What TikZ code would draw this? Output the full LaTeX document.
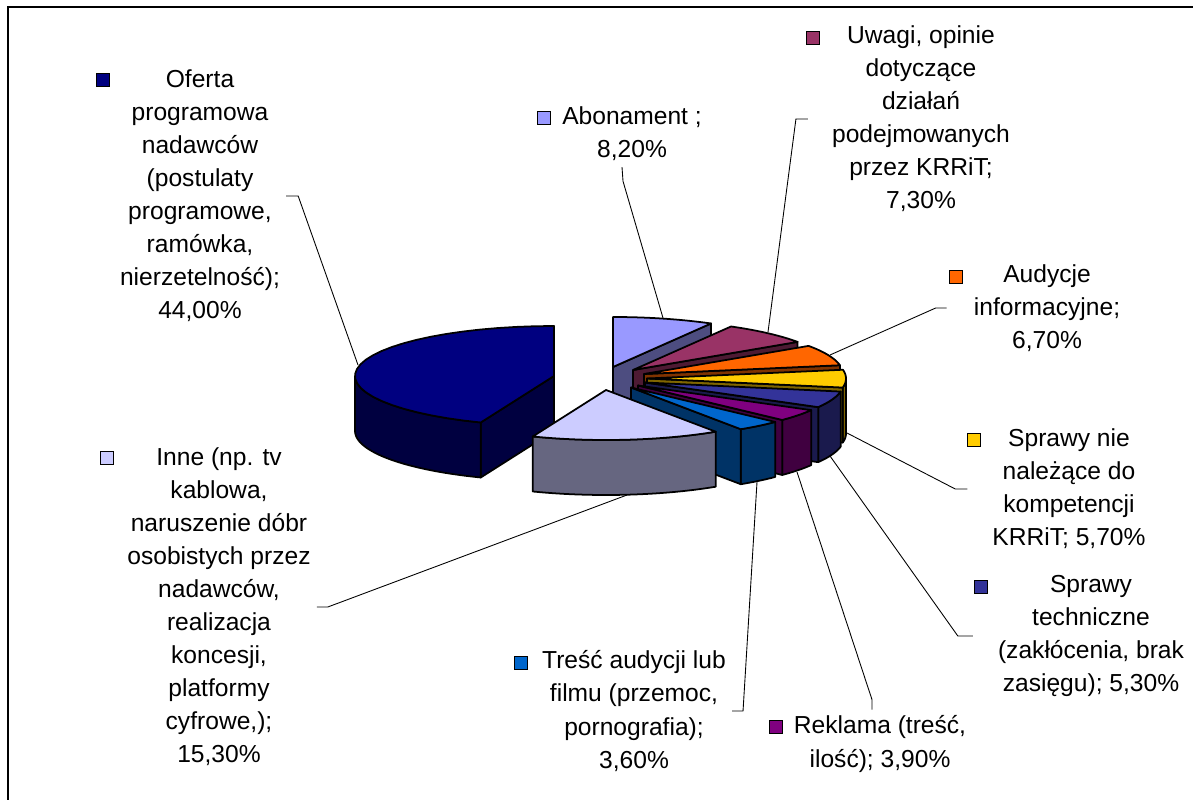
\documentclass[tikz,border=0pt]{standalone}
\usepackage{fontspec}
\setmainfont{Liberation Sans}
\definecolor{ofertaTop}{HTML}{000080}
\definecolor{ofertaSide}{HTML}{000040}
\definecolor{abonTop}{HTML}{9999FF}
\definecolor{abonSide}{HTML}{4D4D80}
\definecolor{uwagiTop}{HTML}{993366}
\definecolor{uwagiSide}{HTML}{4D1A33}
\definecolor{audTop}{HTML}{FF6600}
\definecolor{audSide}{HTML}{803300}
\definecolor{nieTop}{HTML}{FFCC00}
\definecolor{nieSide}{HTML}{806600}
\definecolor{technTop}{HTML}{333399}
\definecolor{technSide}{HTML}{1A1A4D}
\definecolor{reklTop}{HTML}{800080}
\definecolor{reklSide}{HTML}{400040}
\definecolor{trescTop}{HTML}{0066CC}
\definecolor{trescSide}{HTML}{003366}
\definecolor{inneTop}{HTML}{CCCCFF}
\definecolor{inneSide}{HTML}{666680}
\newcommand\pierx{199}
\newcommand\piery{50}
\newcommand\piedep{55}
\newcommand\lblfont{\fontsize{14pt}{18.8pt}\selectfont}
\tikzset{
  pieface/.style={draw=black, line width=1pt, line join=round, samples=30},
  lbl/.style={align=center, font=\lblfont},
  keybox/.style={draw=black, line width=0.7pt, minimum size=0.25cm, inner sep=0pt},
  leader/.style={draw=black, line width=0.5pt},
  frame/.style={draw=black, line width=1.2pt}
}
\begin{document}
\begin{tikzpicture}[x=0.02cm,y=-0.02cm]
\useasboundingbox (0,0) rectangle (1193,800);
\draw[frame] (8,800) -- (8,7) -- (1193,7);

% Oferta programowa 44,0
\filldraw[pieface, fill=ofertaSide] (554,376) -- ({554+\pierx*sin(201.6)},{376-\piery*cos(201.6)}) -- ++(0,\piedep) -- (554,{376+\piedep}) -- cycle;
\filldraw[pieface, fill=ofertaSide] plot[domain=201.6:270] ({554+\pierx*sin(\x)},{376-\piery*cos(\x)}) -- plot[domain=270:201.6] ({554+\pierx*sin(\x)},{376+\piedep-\piery*cos(\x)}) -- cycle;
\filldraw[pieface, fill=ofertaTop] (554,376) -- plot[domain=201.6:360] ({554+\pierx*sin(\x)},{376-\piery*cos(\x)}) -- cycle;

% Abonament 8,2
\filldraw[pieface, fill=abonSide] (613,367) -- ({613+\pierx*sin(29.52)},{367-\piery*cos(29.52)}) -- ++(0,\piedep) -- (613,{367+\piedep}) -- cycle;
\filldraw[pieface, fill=abonTop] (613,367) -- plot[domain=0:29.52] ({613+\pierx*sin(\x)},{367-\piery*cos(\x)}) -- cycle;

% Uwagi 7,3
\filldraw[pieface, fill=uwagiSide] (633,370) -- ({633+\pierx*sin(55.8)},{370-\piery*cos(55.8)}) -- ++(0,\piedep) -- (633,{370+\piedep}) -- cycle;
\filldraw[pieface, fill=uwagiTop] (633,370) -- plot[domain=29.52:55.8] ({633+\pierx*sin(\x)},{370-\piery*cos(\x)}) -- cycle;

% Audycje 6,7
\filldraw[pieface, fill=audSide] (644,374) -- ({644+\pierx*sin(79.92)},{374-\piery*cos(79.92)}) -- ++(0,\piedep) -- (644,{374+\piedep}) -- cycle;
\filldraw[pieface, fill=audTop] (644,374) -- plot[domain=55.8:79.92] ({644+\pierx*sin(\x)},{374-\piery*cos(\x)}) -- cycle;

% Sprawy nie nalezace 5,7
\filldraw[pieface, fill=nieSide] plot[domain=90:100.44] ({647+\pierx*sin(\x)},{378.5-\piery*cos(\x)}) -- plot[domain=100.44:90] ({647+\pierx*sin(\x)},{378.5+\piedep-\piery*cos(\x)}) -- cycle;
\filldraw[pieface, fill=nieSide] (647,378.5) -- ({647+\pierx*sin(100.44)},{378.5-\piery*cos(100.44)}) -- ++(0,\piedep) -- (647,{378.5+\piedep}) -- cycle;
\filldraw[pieface, fill=nieTop] (647,378.5) -- plot[domain=79.92:100.44] ({647+\pierx*sin(\x)},{378.5-\piery*cos(\x)}) -- cycle;

% Sprawy techniczne 5,3
\filldraw[pieface, fill=technSide] plot[domain=100.44:119.52] ({645+\pierx*sin(\x)},{382.5-\piery*cos(\x)}) -- plot[domain=119.52:100.44] ({645+\pierx*sin(\x)},{382.5+\piedep-\piery*cos(\x)}) -- cycle;
\filldraw[pieface, fill=technSide] (645,382.5) -- ({645+\pierx*sin(119.52)},{382.5-\piery*cos(119.52)}) -- ++(0,\piedep) -- (645,{382.5+\piedep}) -- cycle;
\filldraw[pieface, fill=technTop] (645,382.5) -- plot[domain=100.44:119.52] ({645+\pierx*sin(\x)},{382.5-\piery*cos(\x)}) -- cycle;

% Reklama 3,9
\filldraw[pieface, fill=reklSide] plot[domain=119.52:133.56] ({638+\pierx*sin(\x)},{385.5-\piery*cos(\x)}) -- plot[domain=133.56:119.52] ({638+\pierx*sin(\x)},{385.5+\piedep-\piery*cos(\x)}) -- cycle;
\filldraw[pieface, fill=reklSide] (638,385.5) -- ({638+\pierx*sin(133.56)},{385.5-\piery*cos(133.56)}) -- ++(0,\piedep) -- (638,{385.5+\piedep}) -- cycle;
\filldraw[pieface, fill=reklTop] (638,385.5) -- plot[domain=119.52:133.56] ({638+\pierx*sin(\x)},{385.5-\piery*cos(\x)}) -- cycle;

% Tresc audycji 3,6
\filldraw[pieface, fill=trescSide] plot[domain=133.56:146.52] ({631+\pierx*sin(\x)},{387.5-\piery*cos(\x)}) -- plot[domain=146.52:133.56] ({631+\pierx*sin(\x)},{387.5+\piedep-\piery*cos(\x)}) -- cycle;
\filldraw[pieface, fill=trescSide] (631,387.5) -- ({631+\pierx*sin(146.52)},{387.5-\piery*cos(146.52)}) -- ++(0,\piedep) -- (631,{387.5+\piedep}) -- cycle;
\filldraw[pieface, fill=trescTop] (631,387.5) -- plot[domain=133.56:146.52] ({631+\pierx*sin(\x)},{387.5-\piery*cos(\x)}) -- cycle;

% Inne 15,3
\filldraw[pieface, fill=inneSide] plot[domain=146.52:201.6] ({606+\pierx*sin(\x)},{390-\piery*cos(\x)}) -- plot[domain=201.6:146.52] ({606+\pierx*sin(\x)},{390+\piedep-\piery*cos(\x)}) -- cycle;
\filldraw[pieface, fill=inneTop] (606,390) -- plot[domain=146.52:201.6] ({606+\pierx*sin(\x)},{390-\piery*cos(\x)}) -- cycle;

% leader ends on the slices
\coordinate (oferta-end) at (358,365);
\coordinate (abon-end) at (663,318);
\coordinate (uwagi-end) at (768,332);
\coordinate (aud-end) at (830,355);
\coordinate (nie-end) at (847,433);
\coordinate (techn-end) at (830,456);
\coordinate (rekl-end) at (797,472);
\coordinate (tresc-end) at (757,482);
\coordinate (inne-end) at (627,495);

% labels
\node[lbl] (oferta) at (200,196) {Oferta\\programowa\\nadawców\\(postulaty\\programowe,\\ramówka,\\nierzetelność);\\44,00\%};
\node[keybox, fill=ofertaTop] (oferta-key) at (103,80) {};
\node[lbl] (abon) at (632,134) {Abonament ;\\8,20\%};
\node[keybox, fill=abonTop] (abon-key) at (544,118) {};
\node[lbl] (uwagi) at (921,119) {Uwagi, opinie\\dotyczące\\działań\\podejmowanych\\przez KRRiT;\\7,30\%};
\node[keybox, fill=uwagiTop] (uwagi-key) at (813,38) {};
\node[lbl] (aud) at (1047,308) {Audycje\\informacyjne;\\6,70\%};
\node[keybox, fill=audTop] (aud-key) at (956,277) {};
\node[lbl] (nie) at (1069,489) {Sprawy nie\\należące do\\kompetencji\\KRRiT; 5,70\%};
\node[keybox, fill=nieTop] (nie-key) at (974,440) {};
\node[lbl] (techn) at (1091,636) {Sprawy\\techniczne\\(zakłócenia, brak\\zasięgu); 5,30\%};
\node[keybox, fill=technTop] (techn-key) at (981,587) {};
\node[lbl] (rekl) at (880,744) {Reklama (treść,\\ilość); 3,90\%};
\node[keybox, fill=reklTop] (rekl-key) at (776,727) {};
\node[lbl] (tresc) at (634,711) {Treść audycji lub\\filmu (przemoc,\\pornografia);\\3,60\%};
\node[keybox, fill=trescTop] (tresc-key) at (521,663) {};
\node[lbl] (inne) at (219,607) {Inne (np. tv\\kablowa,\\naruszenie dóbr\\osobistych przez\\nadawców,\\realizacja\\koncesji,\\platformy\\cyfrowe,);\\15,30\%};
\node[keybox, fill=inneTop] (inne-key) at (107,458) {};

% leaders
\draw[leader] (oferta.east) -- ++(12,0) -- (oferta-end);
\draw[leader] ([xshift=-0.2cm]abon.south) -- ++(1,14) -- (abon-end);
\draw[leader] ([xshift=-0.36cm]uwagi.west) -- ++(-12,0) -- (uwagi-end);
\draw[leader] ([xshift=-0.42cm]aud.west) -- ++(-11,0) -- (aud-end);
\draw[leader] ([xshift=-0.38cm]nie.west) -- ++(-12,0) -- (nie-end);
\draw[leader] ([xshift=-0.38cm]techn.west) -- ++(-15,0) -- (techn-end);
\draw[leader] ([xshift=-0.16cm]rekl.north) -- ++(0,-10) -- (rekl-end);
\draw[leader] (tresc.east) -- ++(11,0) -- (tresc-end);
\draw[leader] (inne.east) -- ++(11,0) -- (inne-end);
\end{tikzpicture}
\end{document}
